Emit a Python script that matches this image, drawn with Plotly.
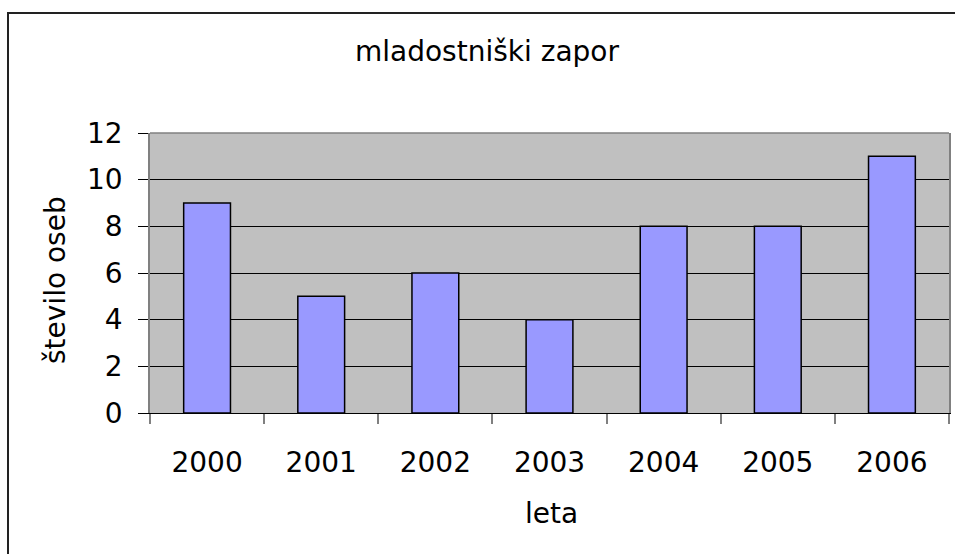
import plotly.graph_objects as go

years = ["2000", "2001", "2002", "2003", "2004", "2005", "2006"]
counts = [9, 5, 6, 4, 8, 8, 11]
y_ticks = [0, 2, 4, 6, 8, 10, 12]

title_text = "mladostniški zapor"
x_title = "leta"
y_title = "število oseb"

FONT = "DejaVu Sans"

fig = go.Figure()
fig.add_trace(go.Bar(
    x=years, y=counts,
    marker=dict(color="#9999FF", line=dict(color="black", width=1.5)),
    width=0.41,
))

W, H = 955, 554
L, R, T, B = 150, 6, 133, 141
pw, ph = W - L - R, H - T - B

def px_x(p):
    return (p - L) / pw

def px_y(p):
    return (H - B - p) / ph

fig.update_layout(
    width=W, height=H,
    margin=dict(l=L, r=R, t=T, b=B, autoexpand=False),
    paper_bgcolor="white",
    plot_bgcolor="#C0C0C0",
    showlegend=False,
    font=dict(family=FONT, color="black"),
    xaxis=dict(
        type="category",
        tickson="boundaries",
        ticks="outside", ticklen=10, tickcolor="#808080", tickwidth=1.5,
        showline=True, linecolor="black", linewidth=1,
        showgrid=False,
        tickfont=dict(size=28, family=FONT),
        ticklabelstandoff=24,
    ),
    yaxis=dict(
        range=[0, 12],
        tickvals=y_ticks,
        ticks="outside", ticklen=10, tickcolor="black", tickwidth=1,
        showline=True, linecolor="#808080", linewidth=1.5, mirror=True,
        showgrid=True, gridcolor="black", gridwidth=1,
        zeroline=False,
        tickfont=dict(size=28, family=FONT),
        ticklabelstandoff=10,
    ),
    shapes=[
        dict(type="line", xref="paper", yref="paper", x0=0, x1=1, y0=1, y1=1,
             line=dict(color="#808080", width=1.5), layer="above"),
        dict(type="rect", xref="paper", yref="paper",
             x0=px_x(8), x1=px_x(975), y0=px_y(575), y1=px_y(13),
             line=dict(color="#222222", width=2), fillcolor="rgba(0,0,0,0)"),
    ],
    annotations=[
        dict(text=title_text, xref="paper", yref="paper", x=px_x(487), y=px_y(52),
             showarrow=False, font=dict(size=28, family=FONT),
             xanchor="center", yanchor="middle"),
        dict(text=y_title, xref="paper", yref="paper", x=px_x(55), y=px_y(280),
             showarrow=False, textangle=-90, font=dict(size=28, family=FONT),
             xanchor="center", yanchor="middle"),
        dict(text=x_title, xref="paper", yref="paper", x=px_x(551), y=px_y(513),
             showarrow=False, font=dict(size=28, family=FONT),
             xanchor="center", yanchor="middle"),
    ],
)

fig.write_html(
    "out.html",
    config={"displayModeBar": False},
    post_script="document.body.style.margin='0';document.body.style.overflow='hidden';",
)
